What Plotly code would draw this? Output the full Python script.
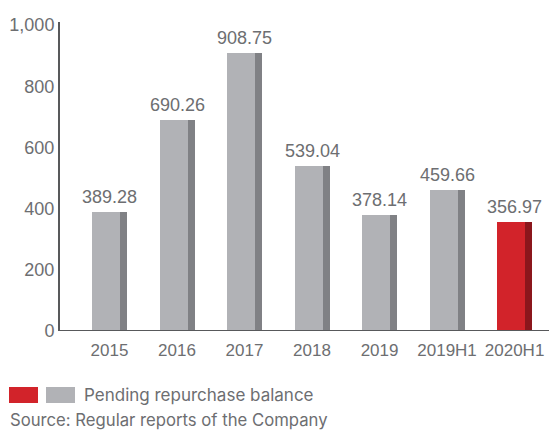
import plotly.graph_objects as go

categories = ["2015", "2016", "2017", "2018", "2019", "2019H1", "2020H1"]
values = [389.28, 690.26, 908.75, 539.04, 378.14, 459.66, 356.97]
label_texts = ["389.28", "690.26", "908.75", "539.04", "378.14", "459.66", "356.97"]
y_ticks = [0, 200, 400, 600, 800, 1000]
y_tick_labels = ["0", "200", "400", "600", "800", "1,000"]
legend_label = "Pending repurchase balance"
source_text = "Source: Regular reports of the Company"

LIGHT_GRAY = "#b1b2b6"
DARK_GRAY = "#808185"
RED = "#d2232a"
DARK_RED = "#8b161c"
TEXT = "#6d6e71"
AXIS = "#58595b"

xs = list(range(len(categories)))
light_colors = [RED if c == "2020H1" else LIGHT_GRAY for c in categories]
dark_colors = [DARK_RED if c == "2020H1" else DARK_GRAY for c in categories]

unit = 67.5
front_w = 28 / unit
side_w = 7 / unit
start = -(front_w + side_w) / 2

Y_MAX = 1010

fig = go.Figure()
fig.add_trace(go.Bar(x=xs, y=values, width=front_w, offset=start,
                     marker=dict(color=light_colors, line=dict(width=0)),
                     showlegend=False, hoverinfo="skip"))
fig.add_trace(go.Bar(x=xs, y=values, width=side_w, offset=start + front_w,
                     marker=dict(color=dark_colors, line=dict(width=0)),
                     showlegend=False, hoverinfo="skip"))

for x, v, t in zip(xs, values, label_texts):
    fig.add_annotation(x=x, y=v, text=t, showarrow=False, yanchor="bottom",
                       yshift=3, font=dict(family="Liberation Sans, Arial", size=18, color=TEXT))

PH = 309.0
PW = 489.0
def py(pix):
    return (331 - pix) / PH
def px(pix):
    return (pix - 60) / PW

# legend
fig.add_shape(type="rect", xref="paper", yref="paper",
              x0=px(9), x1=px(38), y0=py(387), y1=py(403),
              fillcolor=RED, line=dict(width=0))
fig.add_shape(type="rect", xref="paper", yref="paper",
              x0=px(46), x1=px(75), y0=py(387), y1=py(403),
              fillcolor=LIGHT_GRAY, line=dict(width=0))
fig.add_annotation(xref="paper", yref="paper", x=px(82), y=py(395),
                   text=legend_label, showarrow=False, xanchor="left", yanchor="middle",
                   font=dict(family="Inter, Open Sans", size=17, color=TEXT))
fig.add_annotation(xref="paper", yref="paper", x=px(8), y=py(420),
                   text=source_text, showarrow=False, xanchor="left", yanchor="middle",
                   font=dict(family="Inter, Open Sans", size=16.7, color=TEXT))

fig.update_layout(
    width=549, height=430,
    margin=dict(l=60, r=0, t=22, b=99),
    paper_bgcolor="white", plot_bgcolor="white",
    barmode="overlay", bargap=0,
    xaxis=dict(range=[-0.733, 6.51], tickmode="array", tickvals=xs, ticktext=categories,
               showgrid=False, zeroline=False, showline=False, ticks="",
               ticklabelstandoff=7,
               tickfont=dict(family="Liberation Sans, Arial", size=17, color=TEXT)),
    yaxis=dict(range=[0, Y_MAX], tickmode="array", tickvals=y_ticks, ticktext=y_tick_labels,
               showgrid=False, zeroline=False, showline=True, linecolor=AXIS, linewidth=2,
               ticks="", ticklen=0,
               tickfont=dict(family="Liberation Sans, Arial", size=18, color=TEXT)),
)
fig.add_shape(type="line", xref="paper", yref="y", x0=0, x1=1, y0=0, y1=0,
              line=dict(color=AXIS, width=2))

fig.write_html("out.html")
